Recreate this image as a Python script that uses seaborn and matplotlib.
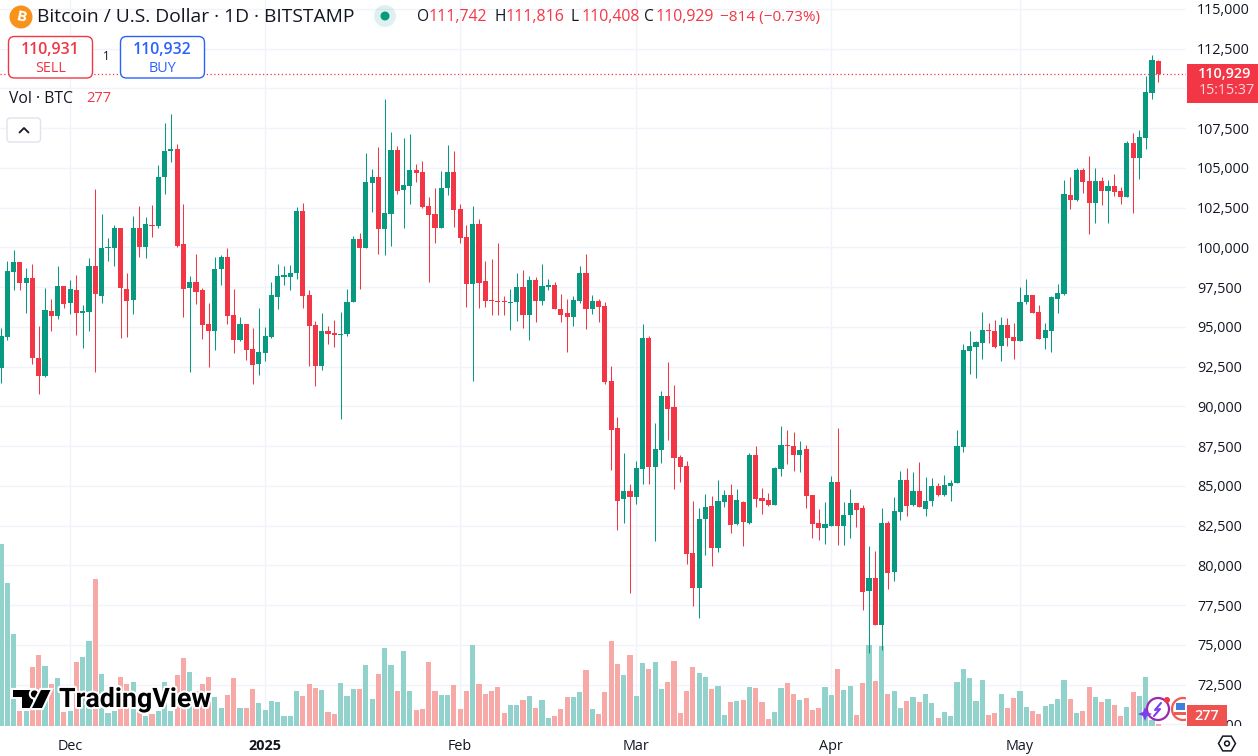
import matplotlib
matplotlib.use("Agg")
import matplotlib.pyplot as plt
import matplotlib.patches as mpatches
import matplotlib.patheffects as pe
import pandas as pd
import seaborn as sns

UP = "#089981"
DOWN = "#f23645"
UP_VOL = "#92d2cc"
DOWN_VOL = "#f7a9a7"
GRID = "#f0f3fa"
TEXT = "#131722"

# daily candles, 2024-11-20 to 2025-05-23
opens = [92430, 94350, 98430, 99060, 97740, 98050, 93040, 91910, 95990, 95670, 97550, 96490, 97300, 95860, 95920, 98810, 96930, 99940, 99940, 101250,
         97360, 96670, 101250, 100000, 101440, 101380, 104450, 106080, 106210, 100190, 97430, 97800, 97300, 95170, 94730, 98620, 99370, 95730, 94170, 95170,
         93600, 92660, 93350, 94350, 96860, 98120, 98120, 98370, 102320, 96990, 95110, 92540, 94730, 94610, 94480, 94540, 96550, 100560, 99940, 104070,
         104450, 101190, 102130, 106140, 103630, 103890, 104890, 104760, 102630, 102130, 101250, 103760, 104760, 102440, 100690, 97680, 101500, 97870, 96680, 96610,
         96610, 96490, 96550, 97490, 95730, 97930, 96610, 97490, 97620, 96110, 95860, 95610, 96610, 98370, 96110, 96610, 96300, 91570, 88620, 84160,
         84660, 84280, 86040, 94330, 86170, 87240, 90630, 89940, 86800, 86230, 80770, 78570, 82900, 83720, 81080, 83970, 84410, 82590, 83970, 82650,
         86920, 84220, 84100, 83780, 86040, 87550, 87490, 86920, 87300, 84410, 82650, 82340, 82460, 85230, 82460, 83150, 83910, 83590, 78380, 79200,
         76250, 82650, 79570, 83340, 85350, 83780, 84660, 83570, 84030, 84970, 84430, 85010, 85160, 87470, 93470, 93710, 93970, 94790, 94720, 93780,
         95110, 94340, 94140, 96550, 96990, 95930, 94290, 94720, 96790, 97060, 103270, 102960, 104860, 104170, 102770, 104170, 103540, 103850, 103540, 103150,
         106550, 105610, 106860, 109710, 111742]
highs = [94960, 99160, 99870, 99060, 98680, 98990, 95040, 97430, 96740, 98810, 97550, 97930, 98240, 96360, 99310, 103700, 102130, 100620, 101440, 101250,
         98370, 102000, 102630, 101940, 102690, 105200, 107840, 108400, 106520, 102760, 98180, 99560, 97430, 96490, 99430, 99500, 99940, 97360, 95610, 95170,
         94920, 96170, 94980, 97800, 98990, 98810, 98870, 102570, 102820, 97300, 95360, 95860, 95040, 95420, 95920, 97360, 100750, 100880, 105950, 104950,
         106330, 109340, 107270, 106390, 106890, 107150, 105260, 105450, 103200, 103760, 104830, 106460, 106080, 102760, 101440, 102630, 101820, 99180, 99250, 100250,
         96930, 97360, 98370, 98560, 98180, 98120, 98930, 97990, 97800, 97050, 96740, 96930, 98810, 99560, 96990, 96740, 96550, 92570, 89310, 87050,
         85100, 86540, 95210, 94460, 88990, 91000, 92820, 91320, 86920, 86540, 84030, 83590, 84470, 84350, 85350, 84720, 85100, 84790, 84030, 87050,
         87490, 84850, 84540, 86170, 88800, 88550, 88370, 87800, 87550, 84410, 83530, 83970, 85600, 88620, 83970, 84790, 83910, 83780, 81210, 80890,
         83590, 82780, 84280, 85920, 86100, 85850, 86480, 85590, 85520, 85160, 85660, 85400, 88550, 93950, 94720, 94100, 95930, 95280, 95420, 95640,
         95540, 95280, 97490, 98000, 96990, 96360, 95250, 96940, 97730, 104240, 104410, 105030, 105030, 105730, 105030, 104410, 104240, 104600, 103780, 106670,
         107180, 107370, 110770, 112090, 111816]
lows = [91470, 94190, 97300, 97300, 95860, 92660, 90780, 91850, 94730, 95480, 96170, 95800, 94480, 93670, 94730, 92160, 96490, 99180, 98810, 94290,
        94350, 95800, 99370, 99310, 100690, 101250, 103380, 105390, 100060, 95610, 92160, 96420, 94230, 92470, 93540, 97620, 95170, 93350, 94100, 92910,
        91410, 91970, 92850, 94290, 96110, 97620, 97300, 97990, 96170, 92560, 91280, 92290, 93920, 93730, 89200, 94420, 96550, 97360, 99940, 102250,
        99560, 99500, 100120, 103380, 101250, 102760, 104140, 102510, 97800, 100250, 101250, 103320, 101310, 100310, 96240, 91600, 96170, 96240, 95730, 95730,
        95730, 94790, 95360, 94920, 94170, 95300, 96360, 97300, 96110, 95300, 93410, 95040, 96490, 94860, 95800, 95300, 91410, 85980, 82210, 82650,
        78260, 83840, 85100, 85100, 81520, 86420, 87860, 84790, 85230, 80080, 77440, 76690, 80640, 79950, 80830, 83660, 82020, 82530, 81210, 82590,
        83660, 83220, 83720, 83780, 85600, 86360, 85920, 85850, 83590, 81710, 81580, 81330, 82460, 81270, 81270, 81710, 82400, 77190, 74490, 76250,
        74680, 78510, 79010, 82840, 83090, 83720, 83660, 83140, 83760, 84340, 84360, 84030, 85160, 87110, 92020, 91760, 92960, 93970, 93690, 92890,
        93830, 93010, 94140, 96430, 95850, 94220, 93590, 93400, 95850, 96990, 102410, 102910, 103420, 100820, 101520, 102650, 101520, 103230, 102720, 103150,
        102140, 104290, 106190, 109320, 110408]
closes = [94420, 98490, 99060, 97740, 98050, 93040, 91910, 96050, 95670, 97550, 96420, 97360, 95860, 95990, 98810, 97050, 99940, 100000, 101250, 97430,
          96610, 101250, 100060, 101500, 101380, 104450, 106080, 106210, 100120, 97360, 97800, 97180, 95110, 94730, 98620, 99430, 95670, 94170, 95170, 93540,
          92600, 93410, 94420, 96990, 98180, 98240, 98370, 102320, 96930, 95040, 92540, 94730, 94540, 94480, 94540, 96550, 100560, 99940, 104140, 104450,
          101190, 102190, 106140, 103570, 103950, 104890, 104700, 102570, 102070, 101250, 103760, 104760, 102380, 100620, 97680, 101500, 97740, 96610, 96610, 96550,
          96550, 96550, 97490, 95730, 97930, 96610, 97550, 97620, 96110, 95730, 95610, 96680, 98370, 96110, 96610, 96240, 91530, 88550, 84030, 84660,
          84280, 86100, 94330, 86170, 87300, 90630, 89870, 86730, 86170, 80700, 78570, 82900, 83660, 81080, 84030, 84410, 82530, 84100, 82710, 86920,
          84160, 84030, 83780, 86100, 87550, 87490, 86920, 87240, 84350, 82590, 82340, 82590, 85230, 82460, 83150, 83910, 83470, 78320, 79200, 76250,
          82650, 79510, 83410, 85350, 83720, 84660, 83660, 84070, 84970, 84430, 85090, 85210, 87540, 93520, 93780, 94050, 94790, 94720, 93730, 95110,
          94290, 94140, 96600, 96990, 95900, 94260, 94790, 96870, 97110, 103350, 102960, 104860, 104090, 102770, 104170, 103540, 103850, 103470, 103150, 106550,
          105610, 106940, 109750, 111780, 110929]
volumes = [27300, 21450, 13800, 2250, 2250, 8850, 10650, 9000, 6300, 7200, 2100, 2250, 9600, 10350, 12750, 22050, 7800, 1950, 2250, 7350,
           6300, 6600, 2400, 1500, 1800, 2250, 6600, 2250, 7650, 10200, 8100, 5250, 6300, 7350, 4350, 2700, 4650, 7200, 2700, 2700,
           5550, 3450, 2400, 3750, 3600, 1500, 1500, 5250, 4500, 6300, 5700, 5400, 2100, 1800, 6450, 4500, 5550, 5550, 9150, 4050,
           7800, 11700, 9150, 5250, 11250, 5250, 2400,
           2550, 9600, 5250, 4650, 4650, 6150, 2550, 5250, 12150, 6300, 4800, 5250, 5850, 1950, 3150, 3150, 3900, 4500, 2700, 3900,
           1200, 1500, 2550, 4350, 4350, 5100, 8400, 2550, 1800, 5100, 12750, 9300, 7650, 10650, 4500, 9450, 8550, 9600, 5550, 6600,
           9750, 1950, 5250, 8850, 7950, 7350, 5550, 6000, 1650, 3600, 3750, 3900, 5850, 5700, 3600, 1050, 2100, 5700, 6450, 4800,
           3900, 4200, 2400, 2700, 5850, 4650, 8550,
           5400, 6000, 1650, 6450, 12150, 6750, 12000, 4800, 5250, 2700, 3750, 4350, 3600, 4800, 3450, 1200, 2100, 1500, 6600, 8550,
           7200, 3750, 6900, 1650, 1950, 4800, 2700, 4200, 5250, 2850, 2250, 1800, 3000, 3300, 4050, 6900, 4050, 1950, 2250, 5850,
           4350, 3600, 4050, 3150, 1500, 2850, 5100, 4500, 7350, 900, 277]

month_days = [11, 42, 73, 101, 132, 162]
month_labels = ["Dec", "2025", "Feb", "Mar", "Apr", "May"]
price_ticks = list(range(70000, 115001, 2500))
hidden_tick = 110000  # sits behind the last price badge
last_price = 110929

df = pd.DataFrame({"day": range(len(opens)), "open": opens, "high": highs, "low": lows,
                   "close": closes, "volume": volumes})
df["direction"] = ["up" if c >= o else "down" for o, c in zip(df["open"], df["close"])]

sns.set_theme(style="white")
plt.rcParams["font.family"] = ["Open Sans", "DejaVu Sans"]

W, H = 1258, 756
fig = plt.figure(figsize=(W / 100, H / 100), dpi=100, facecolor="white")
rect = [0, 30 / H, 1186 / W, 726 / H]

# bottom layer: price scale and grid
ax = fig.add_axes(rect)
ax.set_xlim(-0.16, 188.4)
ax.set_ylim(69901, 115566)
ax.yaxis.tick_right()
ax.set_yticks(price_ticks)
ax.set_yticklabels(["" if p == hidden_tick else f"{p:,}" for p in price_ticks], color=TEXT, fontsize=10.4)
ax.set_xticks(month_days)
ax.set_xticklabels(month_labels, color=TEXT, fontsize=10.4)
ax.get_xticklabels()[1].set_fontweight("bold")
ax.tick_params(axis="both", length=0)
ax.tick_params(axis="y", pad=8)
ax.tick_params(axis="x", pad=9)
ax.grid(True, color=GRID, linewidth=1)
ax.set_axisbelow(True)
sns.despine(ax=ax, left=True, right=True, top=True, bottom=True)

# middle layer: volume bars, scaled to the pane height
ax_vol = fig.add_axes(rect, sharex=ax, frameon=False)
sns.barplot(data=df, x="day", y="volume", hue="direction", palette={"up": UP_VOL, "down": DOWN_VOL},
            hue_order=["up", "down"], native_scale=True, dodge=False, width=0.82, saturation=1,
            linewidth=0, legend=False, errorbar=None, ax=ax_vol)
ax_vol.set_ylim(0, 108900)
ax_vol.axis("off")

# top layer: candles
ax_c = fig.add_axes(rect, sharex=ax, sharey=ax, frameon=False)
for direction, color in [("up", UP), ("down", DOWN)]:
    part = df[df["direction"] == direction]
    ax_c.vlines(part["day"], part["low"], part["high"], color=color, linewidth=0.75)
    lower = part[["open", "close"]].min(axis=1)
    upper = part[["open", "close"]].max(axis=1)
    ax_c.bar(part["day"], (upper - lower).clip(lower=60), bottom=lower, width=0.82, color=color, linewidth=0)
ax_c.axhline(last_price, color=DOWN, linewidth=0.9, linestyle=(0, (1, 2)))
ax_c.axis("off")
ax.set_xlim(-0.16, 188.4)

# interface overlay, in screen pixels
ui = fig.add_axes([0, 0, 1, 1], frameon=False)
ui.set_xlim(0, W)
ui.set_ylim(H, 0)
ui.axis("off")


def label(x, y, s, color=TEXT, size=10.4, ha="left", **kw):
    return ui.text(x, y, s, color=color, fontsize=size, ha=ha, va="center", **kw)


def box(x0, y0, x1, y1, edge, face="white", radius=5, lw=1):
    ui.add_patch(mpatches.FancyBboxPatch((x0, y0), x1 - x0, y1 - y0, boxstyle=f"round,pad=0,rounding_size={radius}",
                                         edgecolor=edge, facecolor=face, linewidth=lw))


# header
ui.add_patch(mpatches.Circle((21, 17), 11.5, color="#f7931a", lw=0))
label(21, 17, "B", color="white", size=11, ha="center", fontweight="bold", rotation=-12)
label(37, 17.5, "Bitcoin / U.S. Dollar · 1D · BITSTAMP", size=13.9)
ui.add_patch(mpatches.Circle((385, 16), 11, color=UP, alpha=0.13, lw=0))
ui.add_patch(mpatches.Circle((385, 16), 4.5, color=UP, lw=0))
for x, letter, value in [(417, "O", "111,742"), (494, "H", "111,816"), (570, "L", "110,408"), (644, "C", "110,929")]:
    label(x, 17, letter, size=11.2)
    label(x + 11.5, 17, value, color=DOWN, size=11.4)
label(720, 17, "−814 (−0.73%)", color=DOWN, size=11.1)

# trade buttons
box(8.5, 36.5, 92.5, 78, DOWN, radius=6)
label(50.5, 50.5, "110,931", color=DOWN, size=11.4, ha="center", fontweight="semibold")
label(50.5, 68, "SELL", color=DOWN, size=10.4, ha="center")
label(106.5, 57, "1", size=8.4, ha="center")
box(120.5, 36.5, 204.5, 78, "#2962ff", radius=6)
label(162.5, 50.5, "110,932", color="#2962ff", size=11.4, ha="center", fontweight="semibold")
label(162.5, 68, "BUY", color="#2962ff", size=10.4, ha="center")

# volume legend and collapse button
label(9, 99, "Vol · BTC", size=11.3)
label(86, 99, "277", color=DOWN, size=10.6)
box(7, 118, 40.5, 142, "#e0e3eb", radius=3)
ui.plot([19.5, 24, 28.5], [132.5, 128, 132.5], color=TEXT, linewidth=1.3)

# watermark
outline = [pe.withStroke(linewidth=3, foreground="white")]
logo = [
    mpatches.Polygon([(13, 690), (33, 690), (33, 708), (22, 708), (22, 697), (13, 697)], color="black", lw=0),
    mpatches.Circle((34.5, 694), 3.6, color="black", lw=0),
    mpatches.Polygon([(41, 690), (50.5, 690), (42, 708), (32, 708)], color="black", lw=0),
]
for p in logo:
    p.set_path_effects(outline)
    ui.add_patch(p)
label(59, 699.5, "TradingView", color="black", size=19.3, fontfamily="Roboto", fontweight="bold", path_effects=outline)

# floating icons at the pane corner
star = [(1145, 707), (1147, 712), (1152, 714), (1147, 716), (1145, 721), (1143, 716), (1138, 714), (1143, 712)]
ui.add_patch(mpatches.Circle((1158, 709), 11, facecolor="white", edgecolor="#9c27b0", linewidth=1.6))
ui.add_patch(mpatches.Polygon(star, color="#7b3ff2", lw=0))
ui.plot([1161, 1155, 1160, 1154], [703, 710, 709, 716], color="#7b3ff2", linewidth=1.5)
ui.add_patch(mpatches.Circle((1167, 700), 3, color=DOWN, lw=0))
ui.add_patch(mpatches.Circle((1183, 709), 11, facecolor="white", edgecolor="#f05a50", linewidth=1.6))
ui.add_patch(mpatches.Rectangle((1176, 703), 9, 7, color="#3f7fe0", lw=0))
ui.add_patch(mpatches.Rectangle((1174, 712), 14, 3, color="#f05a50", lw=0))

# price badges, over the right edge of the icons
ui.add_patch(mpatches.Rectangle((1186, 696), 72, 9, color="white", lw=0))
ui.add_patch(mpatches.Rectangle((1186, 705), 2, 21, color="white", lw=0))
ui.add_patch(mpatches.Rectangle((1187, 64), 71, 39, color=DOWN, lw=0))
label(1224.5, 74, "110,929", color="white", size=10.4, ha="center", fontweight="semibold")
label(1227, 91, "15:15:37", color="white", size=10.4, ha="center", alpha=0.8)
ui.add_patch(mpatches.Rectangle((1187, 726), 71, 10, color="white", lw=0))
ui.add_patch(mpatches.Rectangle((1187, 705), 40, 21, color="#ef5350", lw=0))
label(1207, 715.5, "277", color="white", size=10.4, ha="center", fontweight="semibold")

# settings hexagon
ui.add_patch(mpatches.RegularPolygon((1227, 743.5), 6, radius=8.5, orientation=3.14159 / 2, facecolor="white",
                                     edgecolor=TEXT, linewidth=1.1))
ui.add_patch(mpatches.Circle((1227, 743.5), 2.4, facecolor="white", edgecolor=TEXT, linewidth=1.1))

fig.savefig("out.png", dpi=100, facecolor="white")
